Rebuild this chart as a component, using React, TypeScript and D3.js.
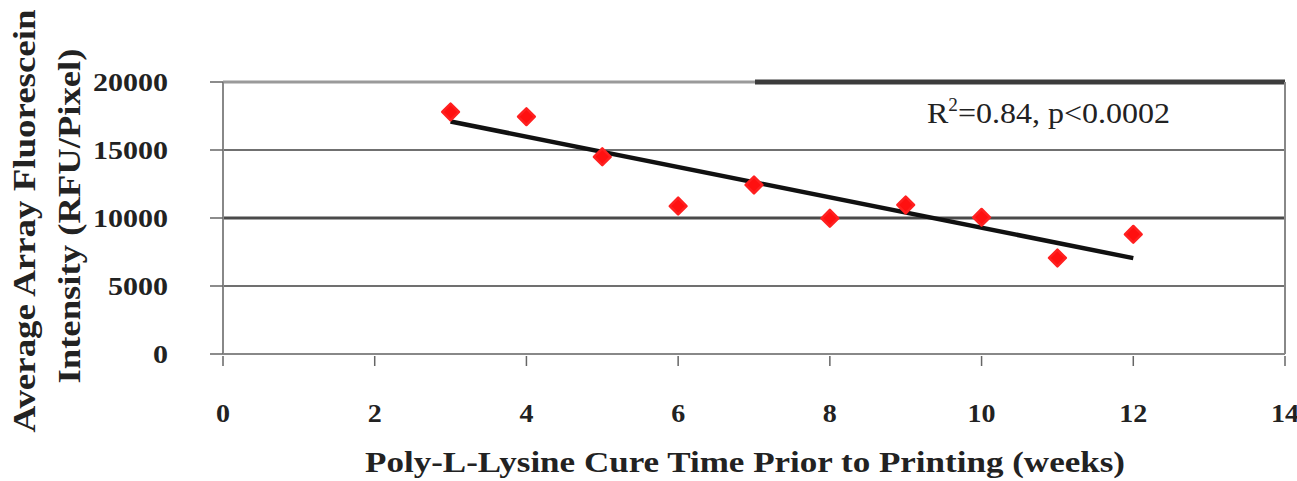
import React from "react";
import * as d3 from "d3";

const weeks = [3, 4, 5, 6, 7, 8, 9, 10, 11, 12];
const intensity = [17800, 17450, 14500, 10880, 12430, 9980, 10960, 10050, 7060, 8800];
const trendX = [3, 12];
const trendY = [17100, 7050];
const xTicks = [0, 2, 4, 6, 8, 10, 12, 14];
const yTicks = [0, 5000, 10000, 15000, 20000];
const xTitle = "Poly-L-Lysine Cure Time Prior to Printing (weeks)";
const yTitle1 = "Average Array Fluorescein";
const yTitle2 = "Intensity  (RFU/Pixel)";

const W = 1297;
const H = 481;
const L = 223;
const R = 1285;
const T = 82;
const B = 354;

export default function App() {
  const x = d3.scaleLinear().domain([0, 14]).range([L, R]);
  const y = d3.scaleLinear().domain([0, 20000]).range([B, T]);
  const line = d3
    .line<number>()
    .x((_, i) => x(trendX[i]))
    .y((d) => y(d));
  const diamond = d3.symbol().type(d3.symbolSquare).size(140)();
  const serif = "'Liberation Serif', 'Times New Roman', serif";

  const gridStyle = (v: number) => {
    if (v === 10000) return { stroke: "#4a4a4a", w: 3 };
    if (v === 20000) return null;
    if (v === 0) return null;
    return { stroke: "#707070", w: 2.2 };
  };

  return (
    <svg
      width={W}
      height={H}
      style={{ position: "absolute", left: 0, top: 0, background: "#fff" }}
      fontFamily={serif}
    >
      {yTicks.map((v) => {
        const g = gridStyle(v);
        if (!g) return null;
        return (
          <line key={v} x1={L} x2={R} y1={y(v)} y2={y(v)} stroke={g.stroke} strokeWidth={g.w} />
        );
      })}
      <line x1={L} x2={755} y1={y(20000)} y2={y(20000)} stroke="#9a9a9a" strokeWidth={3} />
      <line x1={755} x2={R} y1={y(20000)} y2={y(20000)} stroke="#3c3c3c" strokeWidth={5} />
      <line x1={R} x2={R} y1={T} y2={B} stroke="#888" strokeWidth={2} />
      <line x1={L} x2={L} y1={T} y2={B} stroke="#888" strokeWidth={2} />
      <line x1={L} x2={R} y1={B} y2={B} stroke="#888" strokeWidth={2} />
      {yTicks.map((v) => (
        <g key={"yt" + v}>
          <line x1={210} x2={L} y1={y(v)} y2={y(v)} stroke="#666" strokeWidth={1.5} />
          <text
            x={168}
            y={y(v) + 9}
            textAnchor="end"
            fontSize={26}
            fontWeight="bold"
            fill="#222"
            textLength={String(v).length * 15}
            lengthAdjust="spacingAndGlyphs"
          >
            {v}
          </text>
        </g>
      ))}
      {xTicks.map((v) => (
        <g key={"xt" + v}>
          <line x1={x(v)} x2={x(v)} y1={B + 2} y2={B + 12} stroke="#666" strokeWidth={1.5} />
          <text
            x={x(v)}
            y={422}
            textAnchor="middle"
            fontSize={26}
            fontWeight="bold"
            fill="#222"
            textLength={String(v).length * 14}
            lengthAdjust="spacingAndGlyphs"
          >
            {v}
          </text>
        </g>
      ))}
      <path d={line(trendY) || ""} fill="none" stroke="#111" strokeWidth={4.5} />
      {weeks.map((w, i) => (
        <path
          key={"p" + w}
          d={diamond || ""}
          transform={`translate(${x(w)},${y(intensity[i])}) rotate(45)`}
          fill="#ff1010"
          stroke="#ff2020"
          strokeWidth={2.5}
          strokeLinejoin="round"
        />
      ))}
      <text
        x={927}
        y={123}
        fontSize={30}
        fill="#222"
        textLength={243}
        lengthAdjust="spacingAndGlyphs"
      >
        R<tspan fontSize={18} dy={-12}>2</tspan>
        <tspan dy={12}>=0.84, p&lt;0.0002</tspan>
      </text>
      <text
        x={745}
        y={472}
        textAnchor="middle"
        fontSize={30}
        fontWeight="bold"
        fill="#222"
        textLength={760}
        lengthAdjust="spacingAndGlyphs"
      >
        {xTitle}
      </text>
      <text
        transform="translate(35,221) rotate(-90)"
        textAnchor="middle"
        fontSize={32}
        fontWeight="bold"
        fill="#222"
        textLength={423}
        lengthAdjust="spacingAndGlyphs"
      >
        {yTitle1}
      </text>
      <text
        transform="translate(80,216) rotate(-90)"
        textAnchor="middle"
        fontSize={32}
        fontWeight="bold"
        fill="#222"
        textLength={335}
        lengthAdjust="spacingAndGlyphs"
      >
        {yTitle2}
      </text>
    </svg>
  );
}
